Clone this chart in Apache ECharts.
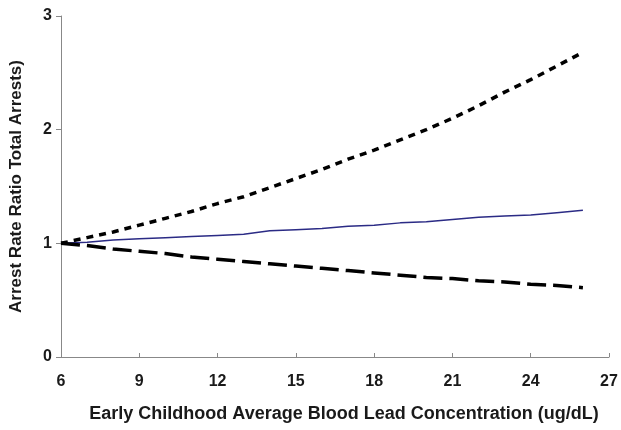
<!DOCTYPE html>
<html><head><meta charset="utf-8">
<script src="https://cdn.jsdelivr.net/npm/echarts@6/dist/echarts.min.js"></script>
<style>html,body{margin:0;padding:0;background:#fff}#c{width:621px;height:430px}</style>
</head><body><div id="c"></div>
<script>
const xValues = [6,7,8,9,10,11,12,13,14,15,16,17,18,19,20,21,22,23,24,25,26];
const upperCI = [1.00,1.05,1.10,1.16,1.22,1.28,1.35,1.41,1.49,1.57,1.65,1.74,1.82,1.91,2.00,2.10,2.21,2.33,2.44,2.56,2.68];
const estimate = [1.00,1.01,1.03,1.04,1.05,1.06,1.07,1.08,1.11,1.12,1.13,1.15,1.16,1.18,1.19,1.21,1.23,1.24,1.25,1.27,1.29];
const lowerCI = [1.00,0.98,0.95,0.93,0.91,0.88,0.86,0.84,0.82,0.80,0.78,0.76,0.74,0.72,0.70,0.69,0.67,0.66,0.64,0.63,0.61];
const xTicks = [6,9,12,15,18,21,24,27];
const yTicks = [0,1,2,3];

const pair = arr => xValues.map((x,i)=>[x,arr[i]]);
const font = 'Liberation Sans, Arial, sans-serif';
const chart = echarts.init(document.getElementById('c'));
chart.setOption({
  animation:false,
  grid:{left:58,right:12,top:16,bottom:73},
  xAxis:{type:'value',min:xTicks[0],max:xTicks[xTicks.length-1],interval:3,
    name:'Early Childhood Average Blood Lead Concentration (ug/dL)',nameLocation:'middle',nameGap:48,
    nameTextStyle:{fontFamily:font,fontWeight:'bold',fontSize:18,color:'#1a1a1a',padding:[0,0,0,18]},
    axisLine:{lineStyle:{color:'#888',width:1}},
    axisTick:{inside:true,length:4,lineStyle:{color:'#888'}},
    axisLabel:{fontFamily:font,fontWeight:'bold',fontSize:16,color:'#1a1a1a',margin:17},
    splitLine:{show:false}},
  yAxis:{type:'value',min:yTicks[0],max:yTicks[yTicks.length-1],interval:1,
    name:'Arrest Rate Ratio Total Arrests)',nameLocation:'middle',nameGap:36,
    nameTextStyle:{fontFamily:font,fontWeight:'bold',fontSize:17,color:'#1a1a1a'},
    axisLine:{show:true,lineStyle:{color:'#888',width:1}},
    axisTick:{show:true,length:5,lineStyle:{color:'#888'}},
    axisLabel:{fontFamily:font,fontWeight:'bold',fontSize:16,color:'#1a1a1a',margin:9},
    splitLine:{show:false}},
  series:[
    {type:'line',data:pair(upperCI),symbol:'none',lineStyle:{color:'#000',width:3.5,type:[7,6]}},
    {type:'line',data:pair(estimate),symbol:'none',lineStyle:{color:'#2b2b85',width:1.5}},
    {type:'line',data:pair(lowerCI),symbol:'none',lineStyle:{color:'#000',width:3.5,type:[19,7]}}
  ]
});
</script></body></html>
